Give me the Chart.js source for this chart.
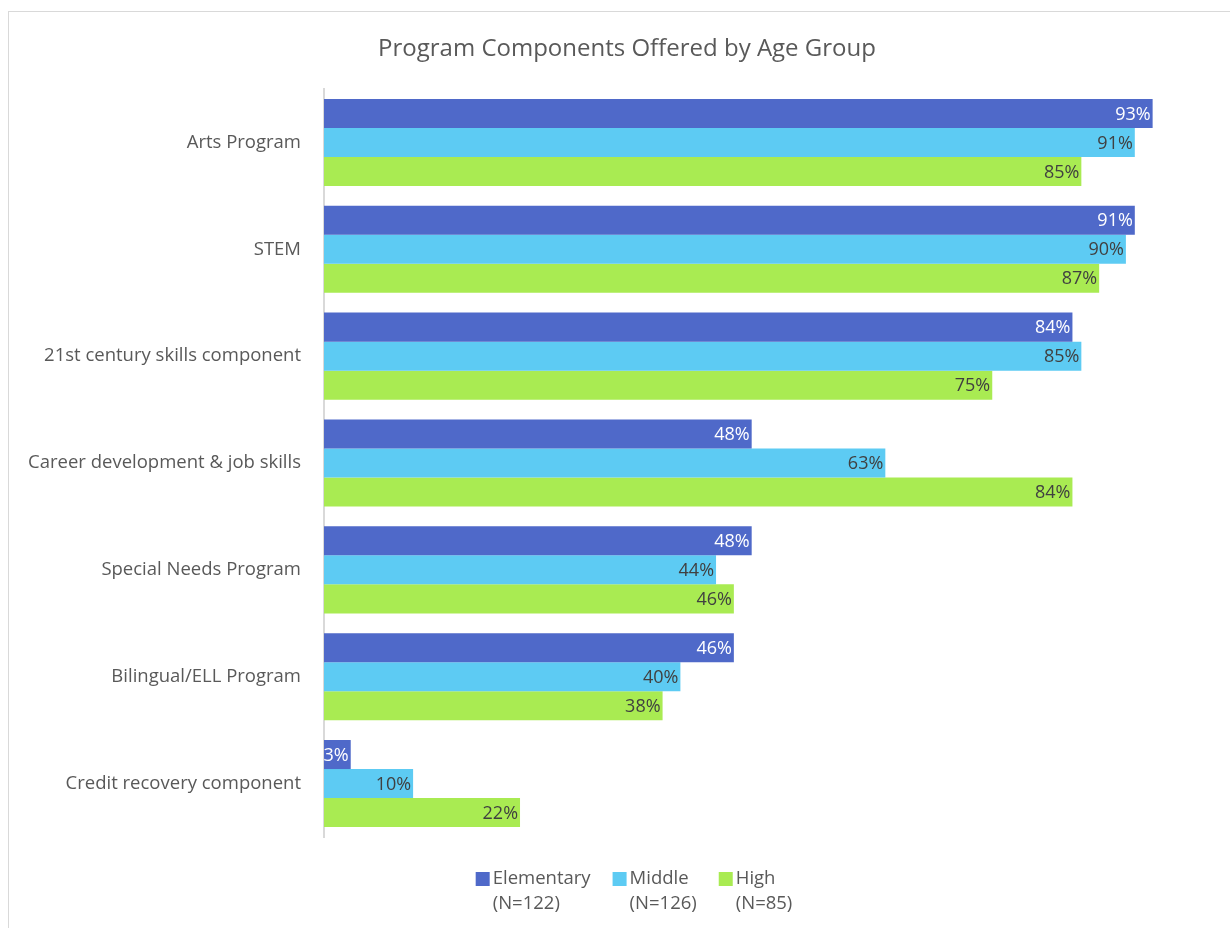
<!DOCTYPE html>
<html>
<head>
<meta charset="utf-8">
<script src="https://cdn.jsdelivr.net/npm/chart.js@4/dist/chart.umd.min.js"></script>
<style>
  body { margin: 0; background: #fff; overflow: hidden; }
  .wrap { position: relative; width: 1230px; height: 928px; }
  .frame { position: absolute; left: 8px; top: 11px; width: 1240px; height: 940px; border: 1px solid #d9d9d9; }
  canvas { position: absolute; left: 0; top: 0; }
</style>
</head>
<body>
<div class="wrap">
  <div class="frame"></div>
  <canvas id="chart" width="1230" height="928"></canvas>
</div>
<script>
// data
const categories = ['Arts Program', 'STEM', '21st century skills component', 'Career development & job skills',
  'Special Needs Program', 'Bilingual/ELL Program', 'Credit recovery component'];
const elementary = [93, 91, 84, 48, 48, 46, 3];
const middle = [91, 90, 85, 63, 44, 40, 10];
const high = [85, 87, 75, 84, 46, 38, 22];
const seriesNames = [['Elementary', '(N=122)'], ['Middle', '(N=126)'], ['High', '(N=85)']];
const colors = ['#4F69C9', '#5DCBF3', '#A9EB52'];
const chartTitle = 'Program Components Offered by Age Group';

const FONT = '"Open Sans", "Noto Sans", sans-serif';
const GREY = '#595959';

// value labels at the inside end of each bar
const barLabels = {
  id: 'barLabels',
  afterDatasetsDraw(chart) {
    const ctx = chart.ctx;
    ctx.save();
    ctx.font = '18px ' + FONT;
    ctx.textAlign = 'right';
    ctx.textBaseline = 'middle';
    chart.data.datasets.forEach((ds, i) => {
      ctx.fillStyle = i === 0 ? '#ffffff' : '#404040';
      chart.getDatasetMeta(i).data.forEach((bar, j) => {
        ctx.fillText(ds.data[j] + '%', bar.x - 2, bar.y + 1);
      });
    });
    ctx.restore();
  }
};

// title + two-line legend, drawn by hand (built-in legend can't wrap nicely)
const titleLegend = {
  id: 'titleLegend',
  afterDraw(chart) {
    const ctx = chart.ctx;
    const cx = 634;
    ctx.save();
    ctx.fillStyle = GREY;
    ctx.textBaseline = 'middle';
    ctx.textAlign = 'center';
    ctx.font = '24px ' + FONT;
    ctx.fillText(chartTitle, 627, 49);

    ctx.font = '18.5px ' + FONT;
    ctx.textAlign = 'left';
    const box = 14, gapBox = 3, gapItem = 22;
    const widths = chart.data.datasets.map(ds =>
      Math.max(...ds.label.map(t => ctx.measureText(t).width)));
    const total = widths.reduce((a, w) => a + box + gapBox + w, 0) + gapItem * (widths.length - 1);
    let x = cx - total / 2;
    const y1 = 879, y2 = 904;
    chart.data.datasets.forEach((ds, i) => {
      ctx.fillStyle = ds.backgroundColor;
      ctx.fillRect(x, y1 - box / 2, box, box);
      ctx.fillStyle = GREY;
      ctx.fillText(ds.label[0], x + box + gapBox, y1);
      ctx.fillText(ds.label[1], x + box + gapBox, y2);
      x += box + gapBox + widths[i] + gapItem;
    });
    ctx.restore();
  }
};

new Chart(document.getElementById('chart'), {
  type: 'bar',
  data: {
    labels: categories,
    datasets: [
      { label: seriesNames[0], data: elementary, backgroundColor: colors[0] },
      { label: seriesNames[1], data: middle, backgroundColor: colors[1] },
      { label: seriesNames[2], data: high, backgroundColor: colors[2] }
    ]
  },
  options: {
    indexAxis: 'y',
    responsive: false,
    animation: false,
    layout: { padding: { left: 0, right: 15, top: 89, bottom: 91 } },
    datasets: { bar: { categoryPercentage: 0.815, barPercentage: 1 } },
    scales: {
      x: { display: false, min: 0, max: 100 },
      y: {
        grid: { display: false, drawTicks: false },
        border: { color: '#d9d9d9', width: 2 },
        ticks: { color: GREY, font: { family: FONT, size: 18.5 }, padding: 23 },
        afterFit(scale) { scale.width = 324; }
      }
    },
    plugins: {
      title: { display: false },
      legend: { display: false },
      tooltip: { enabled: false }
    }
  },
  plugins: [barLabels, titleLegend]
});
</script>
</body>
</html>
